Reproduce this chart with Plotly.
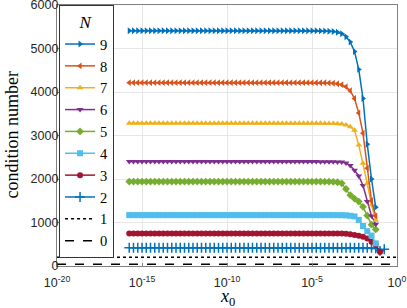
import plotly.graph_objects as go

# exponents of x0 (x0 = 10**exp)
x_exp = [-15.75, -15.5, -15.25, -15.0, -14.75, -14.5, -14.25, -14.0, -13.75, -13.5,
         -13.25, -13.0, -12.75, -12.5, -12.25, -12.0, -11.75, -11.5, -11.25, -11.0,
         -10.75, -10.5, -10.25, -10.0, -9.75, -9.5, -9.25, -9.0, -8.75, -8.5,
         -8.25, -8.0, -7.75, -7.5, -7.25, -7.0, -6.75, -6.5, -6.25, -6.0,
         -5.75, -5.5, -5.25, -5.0, -4.75, -4.5, -4.25, -4.0, -3.75, -3.5,
         -3.25, -3.0, -2.75, -2.5, -2.25, -2.0, -1.75, -1.5, -1.25, -1.0, -0.75]
x0 = [10 ** e for e in x_exp]

cond_9 = [5410, 5410, 5410, 5410, 5410, 5410, 5410, 5410, 5410, 5410,
          5410, 5410, 5410, 5410, 5410, 5410, 5410, 5410, 5410, 5410,
          5410, 5410, 5410, 5410, 5410, 5410, 5410, 5410, 5410, 5410,
          5410, 5410, 5410, 5410, 5410, 5410, 5410, 5410, 5410, 5410,
          5410, 5410, 5410, 5410, 5408, 5405, 5402, 5398, 5390, 5375,
          5340, 5270, 5150, 4930, 4520, 3850, 2800, 2000, 1350]
cond_8 = [4215, 4215, 4215, 4215, 4215, 4215, 4215, 4215, 4215, 4215,
          4215, 4215, 4215, 4215, 4215, 4215, 4215, 4215, 4215, 4215,
          4215, 4215, 4215, 4215, 4215, 4215, 4215, 4215, 4215, 4215,
          4215, 4215, 4215, 4215, 4215, 4215, 4215, 4215, 4215, 4215,
          4215, 4215, 4215, 4215, 4214, 4213, 4211, 4208, 4200, 4190,
          4165, 4120, 4030, 3850, 3520, 3050, 2250, 1500, 1150]
cond_7 = [3280, 3280, 3280, 3280, 3280, 3280, 3280, 3280, 3280, 3280,
          3280, 3280, 3280, 3280, 3280, 3280, 3280, 3280, 3280, 3280,
          3280, 3280, 3280, 3280, 3280, 3280, 3280, 3280, 3280, 3280,
          3280, 3280, 3280, 3280, 3280, 3280, 3280, 3280, 3280, 3280,
          3280, 3280, 3280, 3280, 3280, 3279, 3278, 3277, 3274, 3270,
          3262, 3242, 3200, 3120, 2780, 2360, 1900, 1400, 1050]
cond_6 = [2400, 2400, 2400, 2400, 2400, 2400, 2400, 2400, 2400, 2400,
          2400, 2400, 2400, 2400, 2400, 2400, 2400, 2400, 2400, 2400,
          2400, 2400, 2400, 2400, 2400, 2400, 2400, 2400, 2400, 2400,
          2400, 2400, 2400, 2400, 2400, 2400, 2400, 2400, 2400, 2400,
          2400, 2400, 2400, 2400, 2400, 2399, 2398, 2397, 2395, 2393,
          2388, 2370, 2310, 2200, 2070, 1850, 1480, 1150, 960]
cond_5 = [1940, 1940, 1940, 1940, 1940, 1940, 1940, 1940, 1940, 1940,
          1940, 1940, 1940, 1940, 1940, 1940, 1940, 1940, 1940, 1940,
          1940, 1940, 1940, 1940, 1940, 1940, 1940, 1940, 1940, 1940,
          1940, 1940, 1940, 1940, 1940, 1940, 1940, 1940, 1940, 1940,
          1940, 1940, 1940, 1940, 1940, 1940, 1939, 1938, 1935, 1925,
          1900, 1770, 1630, 1550, 1480, 1360, 1160, 950, 840]
cond_4 = [1170, 1170, 1170, 1170, 1170, 1170, 1170, 1170, 1170, 1170,
          1170, 1170, 1170, 1170, 1170, 1170, 1170, 1170, 1170, 1170,
          1170, 1170, 1170, 1170, 1170, 1170, 1170, 1170, 1170, 1170,
          1170, 1170, 1170, 1170, 1170, 1170, 1170, 1170, 1170, 1170,
          1170, 1170, 1170, 1170, 1170, 1170, 1170, 1170, 1170, 1169,
          1168, 1165, 1155, 1140, 1060, 920, 800, 700, 520]
cond_3 = [750, 750, 750, 750, 750, 750, 750, 750, 750, 750,
          750, 750, 750, 750, 750, 750, 750, 750, 750, 750,
          750, 750, 750, 750, 750, 750, 750, 750, 750, 750,
          750, 750, 750, 750, 750, 750, 750, 750, 750, 750,
          750, 750, 750, 750, 750, 750, 750, 749, 748, 747,
          745, 740, 730, 715, 695, 670, 635, 560, 480, 320]
cond_2 = [420, 420, 420, 420, 420, 420, 420, 420, 420, 420,
          420, 420, 420, 420, 420, 420, 420, 420, 420, 420,
          420, 420, 420, 420, 420, 420, 420, 420, 420, 420,
          420, 420, 420, 420, 420, 420, 420, 420, 420, 420,
          420, 420, 420, 420, 420, 420, 420, 420, 420, 420,
          420, 420, 420, 420, 420, 419, 418, 415, 405, 350, 385]
x_full = [1e-20, 1.0]
cond_1 = [200, 200]
cond_0 = [40, 40]

series = [
    ("9", cond_9, "#0072BD", "triangle-right"),
    ("8", cond_8, "#D95319", "triangle-left"),
    ("7", cond_7, "#EDB120", "triangle-up"),
    ("6", cond_6, "#7E2F8E", "triangle-down"),
    ("5", cond_5, "#77AC30", "diamond"),
    ("4", cond_4, "#4DBEEE", "square"),
    ("3", cond_3, "#A2142F", "circle"),
    ("2", cond_2, "#0072BD", "cross-thin"),
]

fig = go.Figure()
fig.add_trace(go.Scatter(x=x_full, y=cond_0, name="0", mode="lines",
                         line=dict(color="black", width=1.5, dash="dash")))
fig.add_trace(go.Scatter(x=x_full, y=cond_1, name="1", mode="lines",
                         line=dict(color="black", width=1.5, dash="dot")))
for name, ys, col, sym in reversed(series):
    mk = dict(symbol=sym, size=6, color=col, line=dict(width=0, color=col))
    if sym == "cross-thin":
        mk = dict(symbol=sym, size=7, color=col, line=dict(width=1.5, color=col))
    fig.add_trace(go.Scatter(x=x0[:len(ys)], y=ys, name=name, mode="lines+markers",
                             line=dict(color=col, width=1.5), marker=mk))

serif = "Liberation Serif"
fig.update_layout(
    width=407, height=308,
    margin=dict(l=57, r=10, t=5, b=42, autoexpand=False),
    paper_bgcolor="white", plot_bgcolor="white",
    font=dict(family="Liberation Sans", size=12.5, color="#262626"),
    showlegend=True,
    legend=dict(
        x=0.006, y=1, xanchor="left", yanchor="top",
        traceorder="reversed",
        bgcolor="white", bordercolor="#333333", borderwidth=1,
        font=dict(family=serif, size=14.5, color="black"),
        title=dict(text="<i>N</i>", side="top center",
                   font=dict(family=serif, size=17, color="black")),
        itemwidth=30,
    ),
    xaxis=dict(
        type="log", range=[-20, 0], automargin=False,
        tickvals=[1e-20, 1e-15, 1e-10, 1e-5, 1],
        ticktext=["10<sup>-20</sup>", "10<sup>-15</sup>", "10<sup>-10</sup>",
                  "10<sup>-5</sup>", "10<sup>0</sup>"],
        ticklabeloverflow="allow", ticklabelstandoff=5,
        showgrid=True, gridcolor="#e6e6e6", gridwidth=1,
        showline=True, linecolor="#808080", linewidth=1.3, mirror=True,
        ticks="inside", ticklen=3, tickcolor="#808080",
        zeroline=False,
    ),
    yaxis=dict(
        range=[0, 6000], automargin=False,
        tickvals=[0, 1000, 2000, 3000, 4000, 5000, 6000],
        ticktext=["0", "1000", "2000", "3000", "4000", "5000", "6000"],
        ticklabeloverflow="allow", ticklabelstandoff=-5,
        showgrid=True, gridcolor="#e6e6e6", gridwidth=1,
        showline=True, linecolor="#808080", linewidth=1.3, mirror=True,
        ticks="inside", ticklen=3, tickcolor="#808080",
        zeroline=False,
    ),
    annotations=[
        dict(text="condition number", xref="paper", yref="paper",
             x=-0.135, y=0.5, xanchor="center", yanchor="middle",
             textangle=-90, showarrow=False,
             font=dict(family=serif, size=18, color="black")),
        dict(text="<i>x</i><sub>0</sub>", xref="paper", yref="paper",
             x=0.5, y=-0.122, xanchor="center", yanchor="middle",
             showarrow=False,
             font=dict(family=serif, size=18, color="black")),
    ],
)

fig.write_html("out.html", config={"displayModeBar": False},
               post_script="document.body.style.margin='0px';document.body.style.overflow='hidden';")
